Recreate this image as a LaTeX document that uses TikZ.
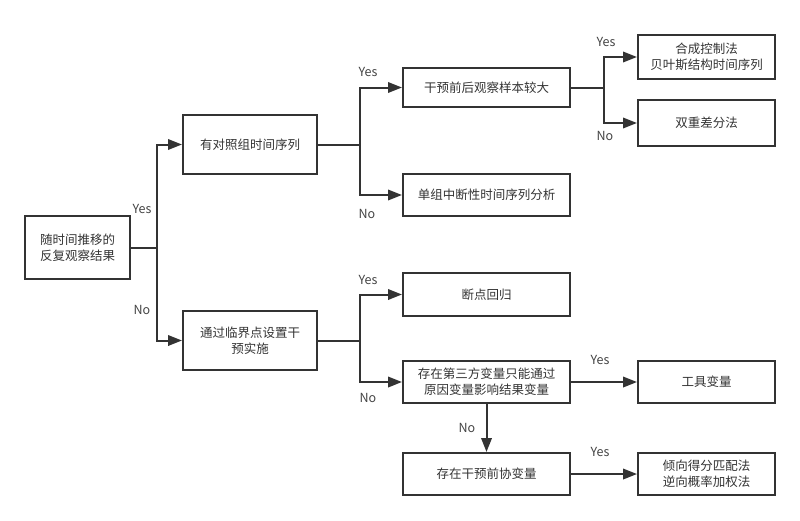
\documentclass[tikz,border=0pt]{standalone}
\usepackage{fontspec}
\setmainfont{Noto Sans CJK SC}
\usetikzlibrary{arrows.meta,positioning,calc}
\definecolor{inkgray}{HTML}{333333}
\definecolor{labelgray}{HTML}{444444}
\tikzset{
  choicebox/.style={
    draw=inkgray,
    line width=2pt,
    inner sep=0pt,
    align=center,
    text=inkgray,
    font=\fontsize{12.5}{16}\selectfont
  },
  widebox/.style={choicebox,minimum width=167pt,minimum height=42pt},
  leafbox/.style={choicebox,minimum width=137pt,minimum height=43pt},
  branchlabel/.style={text=labelgray,font=\fontsize{12.5}{15}\selectfont,inner sep=0pt},
  flowline/.style={line width=2pt,draw=inkgray},
  flowarrow/.style={flowline,-{Triangle[length=14pt,width=10.5pt]}}
}

\begin{document}
\begin{tikzpicture}[x=1pt,y=-1pt]
\useasboundingbox (0,0) rectangle (800,520);
\node[choicebox,minimum width=105pt,minimum height=63pt] (repeated) at (77.5,247.5) {随时间推移的\\反复观察结果};
\node[choicebox,minimum width=134pt,minimum height=59pt] (control) at (250,144.5) {有对照组时间序列};
\node[choicebox,minimum width=134pt,minimum height=59pt] (cutoff) at (250,340.5) {通过临界点设置干\\预实施};
\node[widebox,minimum height=39pt] (largesample) at (486.5,87.5) {干预前后观察样本较大};
\node[widebox] (itsa) at (486.5,195) {单组中断性时间序列分析};
\node[leafbox,minimum height=44pt] (synthetic) at (706.5,57) {合成控制法\\贝叶斯结构时间序列};
\node[leafbox,minimum height=46pt] (did) at (706.5,123) {双重差分法};
\node[widebox,minimum height=43pt] (rdd) at (486.5,294.5) {断点回归};
\node[widebox] (thirdvar) at (486.5,382) {存在第三方变量只能通过\\原因变量影响结果变量};
\node[leafbox,minimum height=42pt] (instrument) at (706.5,382) {工具变量};
\node[widebox] (covariate) at (486.5,474) {存在干预前协变量};
\node[leafbox,minimum height=42pt] (propensity) at (706.5,474) {倾向得分匹配法\\逆向概率加权法};

% branch points
\coordinate (splitA) at (157,247.5);
\coordinate (splitB) at (360,144.5);
\coordinate (splitC) at (604,87.5);
\coordinate (splitD) at (360,340.5);

\draw[flowline] (repeated) -- (splitA);
\draw[flowarrow] (splitA) |- (control);
\draw[flowarrow] (splitA) |- (cutoff);
\draw[flowline] (control) -- (splitB);
\draw[flowarrow] (splitB) |- (largesample);
\draw[flowarrow] (splitB) |- (itsa);
\draw[flowline] (largesample) -- (splitC);
\draw[flowarrow] (splitC) |- (synthetic);
\draw[flowarrow] (splitC) |- (did);
\draw[flowline] (cutoff) -- (splitD);
\draw[flowarrow] (splitD) |- (rdd);
\draw[flowarrow] (splitD) |- (thirdvar);
\draw[flowarrow] (thirdvar) -- (instrument);
\draw[flowarrow] (thirdvar) -- (covariate);
\draw[flowarrow] (covariate) -- (propensity);

\node[branchlabel] (yesA) at (142,209) {Yes};
\node[branchlabel] (noA) at (142,310) {No};
\node[branchlabel] (yesB) at (368,72) {Yes};
\node[branchlabel] (noB) at (367,214) {No};
\node[branchlabel] (yesC) at (606,42) {Yes};
\node[branchlabel] (noC) at (605,136) {No};
\node[branchlabel] (yesD) at (368,280) {Yes};
\node[branchlabel] (noD) at (368,398) {No};
\node[branchlabel] (yesE) at (600,360) {Yes};
\node[branchlabel] (noE) at (467,428) {No};
\node[branchlabel] (yesF) at (600,452) {Yes};
\end{tikzpicture}
\end{document}
